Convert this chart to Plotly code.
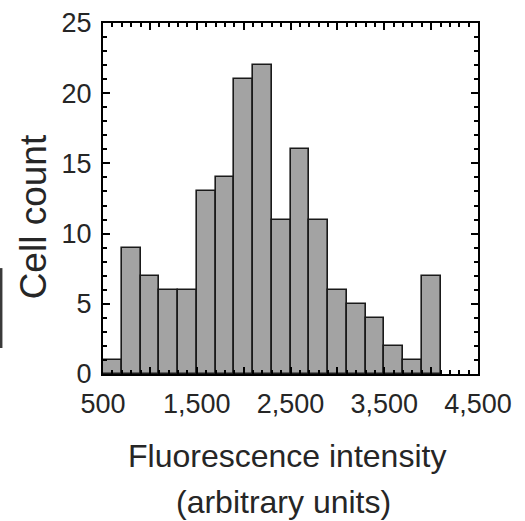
import plotly.graph_objects as go

# Histogram bins (left edges, arbitrary units) and cell counts
bin_starts = [500, 700, 900, 1100, 1300, 1500, 1700, 1900, 2100, 2300,
              2500, 2700, 2900, 3100, 3300, 3500, 3700, 3900]
bin_width = 200
counts = [1, 9, 7, 6, 6, 13, 14, 21, 22, 11, 16, 11, 6, 5, 4, 2, 1, 7]

x_tickvals = [500, 1000, 1500, 2000, 2500, 3000, 3500, 4000, 4500]
x_ticktext = ["500", "", "1,500", "", "2,500", "", "3,500", "", "4,500"]
y_tickvals = [0, 5, 10, 15, 20, 25]

FONT = "Liberation Sans, Arial, Helvetica, sans-serif"
TXT = "#262626"

fig = go.Figure()
fig.add_trace(go.Bar(
    x=bin_starts, y=counts, width=[bin_width] * len(bin_starts), offset=0,
    marker=dict(color="#a3a3a3", line=dict(color="#1a1a1a", width=1.6)),
    showlegend=False, hoverinfo="x+y",
))

axis_common = dict(
    showline=True, linecolor="black", linewidth=2, mirror="ticks",
    ticks="inside", ticklen=7, tickwidth=2, tickcolor="black",
    showgrid=False, zeroline=False, automargin=False,
    tickfont=dict(family=FONT, size=27, color=TXT),
)

fig.update_xaxes(
    range=[500, 4500], tickmode="array", tickvals=x_tickvals, ticktext=x_ticktext,
    minor=dict(dtick=100, tick0=500, ticks="inside", ticklen=4, tickwidth=1.5,
               tickcolor="black", showgrid=False),
    ticklabelstandoff=5,
    **axis_common,
)
fig.update_yaxes(
    range=[0, 25], tickmode="array", tickvals=y_tickvals,
    minor=dict(dtick=1, tick0=0, ticks="inside", ticklen=4, tickwidth=1.5,
               tickcolor="black", showgrid=False),
    ticklabelstandoff=4,
    **axis_common,
)

fig.add_annotation(text="Fluorescence intensity", xref="paper", yref="paper",
                   x=0.491, y=-0.2334, xanchor="center", yanchor="middle",
                   showarrow=False, font=dict(family=FONT, size=32, color=TXT))
fig.add_annotation(text="(arbitrary units)", xref="paper", yref="paper",
                   x=0.4823, y=-0.366, xanchor="center", yanchor="middle",
                   showarrow=False, font=dict(family=FONT, size=32, color=TXT))
fig.add_annotation(text="Cell count", xref="paper", yref="paper",
                   x=-0.186, y=0.447, xanchor="center", yanchor="middle",
                   textangle=-90, showarrow=False,
                   font=dict(family=FONT, size=37, color=TXT))

# cropped bracket from a neighbouring panel at the far left edge
fig.add_shape(type="line", xref="paper", yref="paper",
              x0=-0.2715, x1=-0.2715, y0=0.074, y1=0.3017,
              line=dict(color="#3a3a3a", width=2.5))

fig.update_layout(
    width=525, height=521,
    margin=dict(l=103, r=47, t=23, b=147),
    plot_bgcolor="white", paper_bgcolor="white",
    bargap=0,
)

fig.write_html("out.html", config={"displayModeBar": False},
               post_script="document.body.style.margin='0';document.body.style.overflow='hidden';")
